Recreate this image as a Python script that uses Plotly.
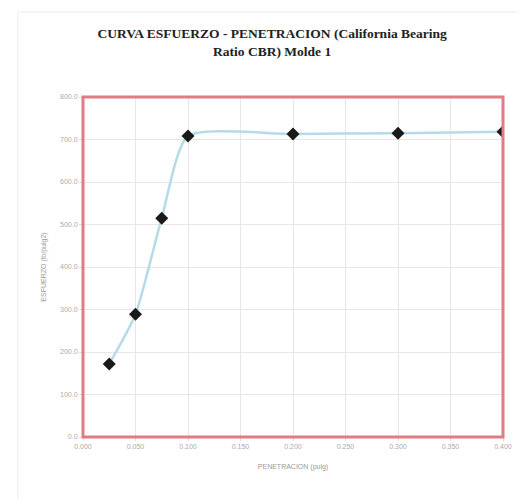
import plotly.graph_objects as go

penetracion = [0.025, 0.050, 0.075, 0.100, 0.200, 0.300, 0.400]
esfuerzo = [172.0, 289.0, 515.0, 708.0, 713.0, 715.0, 718.0]
x_ticks = [0.000, 0.050, 0.100, 0.150, 0.200, 0.250, 0.300, 0.350, 0.400]
y_ticks = [0, 100, 200, 300, 400, 500, 600, 700, 800]

fig = go.Figure()
fig.add_trace(go.Scatter(
    x=penetracion, y=esfuerzo, mode="lines",
    line=dict(shape="spline", smoothing=0.6, color="#b5dbe8", width=2.5),
    hoverinfo="skip", showlegend=False))
fig.add_trace(go.Scatter(
    x=penetracion, y=esfuerzo, mode="markers",
    marker=dict(symbol="diamond", size=10, color="#1a1a1a"),
    showlegend=False))

fig.update_layout(
    width=518, height=491,
    paper_bgcolor="white", plot_bgcolor="white",
    margin=dict(l=75, r=23, t=89, b=62),
    title=dict(text="<b>CURVA ESFUERZO - PENETRACION (California Bearing<br>Ratio CBR) Molde 1</b>",
               x=0.51, xanchor="center", y=0.938, yanchor="middle",
               font=dict(family="Liberation Serif, Times New Roman, serif", size=13.5, color="#222")),
    shapes=[dict(type="rect", xref="paper", yref="paper", x0=0, x1=1, y0=0, y1=1,
                 line=dict(color="#e07c84", width=3), layer="above"),
            dict(type="rect", xref="paper", yref="paper", x0=-0.155, x1=1.04, y0=-0.19, y1=1.25,
                 line=dict(color="#ececec", width=1))],
)
fig.update_xaxes(range=[0, 0.4], tickvals=x_ticks, tickformat=".3f",
                 showgrid=True, gridcolor="#e6e6e6", gridwidth=1, zeroline=False,
                 ticks="outside", ticklen=3, tickcolor="#ddd",
                 tickfont=dict(family="Liberation Sans, Arial", size=7, color="#aaa"),
                 title=dict(text="PENETRACION (pulg)", standoff=14,
                            font=dict(family="Liberation Sans, Arial", size=7, color="#999")))
fig.update_yaxes(range=[0, 800], tickvals=y_ticks, tickformat=".1f",
                 showgrid=True, gridcolor="#e6e6e6", gridwidth=1, zeroline=False,
                 ticks="outside", ticklen=3, tickcolor="#ddd",
                 tickfont=dict(family="Liberation Sans, Arial", size=7, color="#aaa"),
                 title=dict(text="ESFUERZO (lb/pulg2)", standoff=12,
                            font=dict(family="Liberation Sans, Arial", size=7, color="#999")))

fig.write_html("out.html")
